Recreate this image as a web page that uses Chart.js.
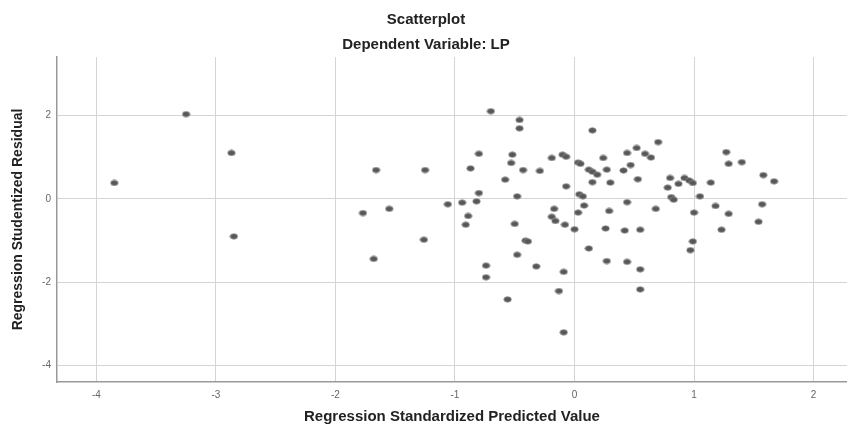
<!DOCTYPE html>
<html>
<head>
<meta charset="utf-8">
<script src="https://cdn.jsdelivr.net/npm/chart.js@4/dist/chart.umd.min.js"></script>
<style>
  html, body { margin: 0; padding: 0; background: #fff; overflow: hidden; }
  canvas { display: block; }
</style>
</head>
<body>
<canvas id="scatter" width="852" height="428"></canvas>
<script>
// Regression Standardized Predicted Value (x) / Studentized Residual (y)
const predicted = [
    -3.85, -3.25, -2.87, -2.85,
    -0.70, -0.46, -0.46, -0.80, -0.52, -0.53, -1.66, -1.25, -0.87, -0.43, -0.29, -0.58,
    -0.80, -0.48, -1.06, -0.94, -0.82, -1.77, -1.55, -0.89, -0.91, -0.50, -1.26, -0.41,
    -0.39, -1.68, -0.48, -0.74, -0.74, -0.32, -0.56,
    0.15, 0.70, -0.19, -0.10, -0.07, 0.03, 0.05, 0.12, 0.15, 0.19, 0.24, 0.27, 0.44,
    0.52, 0.59, 0.64, 0.41, 0.47, 0.15, 0.30, 0.53, -0.07, 0.80, 0.78, 0.87, 0.04,
    0.07, 0.08, 0.03, -0.17, -0.19, -0.16, -0.08, 0.00, 0.44, 0.68, 0.81, 0.83, 0.29,
    0.26, 0.42, 0.55, 0.12, 0.27, 0.44, 0.55, 0.55, -0.09, -0.13, -0.09,
    1.27, 1.29, 1.40, 0.92, 0.96, 0.99, 1.14, 1.58, 1.67, 1.05, 1.18, 1.00, 1.29,
    1.57, 1.54, 1.23, 0.99, 0.97
];
const residual = [
    0.38, 2.03, 1.10, -0.90,
    2.10, 1.89, 1.69, 1.08, 1.06, 0.86, 0.69, 0.69, 0.73, 0.69, 0.67, 0.46,
    0.14, 0.06, -0.13, -0.09, -0.06, -0.34, -0.24, -0.41, -0.62, -0.60, -0.98, -1.00,
    -1.02, -1.44, -1.34, -1.60, -1.88, -1.62, -2.41,
    1.64, 1.36, 0.98, 1.06, 1.01, 0.87, 0.84, 0.70, 0.65, 0.58, 0.98, 0.70, 1.10,
    1.22, 1.08, 0.99, 0.68, 0.81, 0.40, 0.39, 0.47, 0.30, 0.50, 0.27, 0.36, 0.11,
    0.06, -0.16, -0.33, -0.24, -0.43, -0.53, -0.62, -0.73, -0.08, -0.24, 0.04, -0.02, -0.29,
    -0.71, -0.76, -0.74, -1.19, -1.49, -1.51, -1.69, -2.17, -1.75, -2.21, -3.20,
    1.12, 0.84, 0.88, 0.50, 0.44, 0.38, 0.39, 0.57, 0.42, 0.06, -0.17, -0.33, -0.36,
    -0.13, -0.55, -0.74, -1.02, -1.23
];

const FONT = "'Liberation Sans', Arial, sans-serif";

const points = predicted.map((x, i) => ({ x: x, y: residual[i] }));

// slightly wide marker, like the SPSS export
function makeMarker() {
    const c = document.createElement("canvas");
    c.width = 9;
    c.height = 7;
    const ctx = c.getContext("2d");
    ctx.beginPath();
    ctx.ellipse(4.5, 3.5, 3.7, 2.7, 0, 0, Math.PI * 2);
    ctx.fillStyle = "#575757";
    ctx.fill();
    ctx.lineWidth = 0.8;
    ctx.strokeStyle = "#8c8c8c";
    ctx.stroke();
    return c;
}

new Chart(document.getElementById("scatter"), {
    type: "scatter",
    data: {
        datasets: [{
            data: points,
            pointStyle: makeMarker(),
            pointRadius: 3.5,
        }],
    },
    options: {
        responsive: false,
        animation: false,
        layout: { padding: 0 },
        plugins: {
            legend: { display: false },
            tooltip: { enabled: false },
            title: {
                display: true,
                text: "Scatterplot",
                color: "#222",
                font: { family: FONT, size: 15, weight: "bold" },
                padding: { top: 11, bottom: 3 },
            },
            subtitle: {
                display: true,
                text: "Dependent Variable: LP",
                color: "#222",
                font: { family: FONT, size: 15, weight: "bold" },
                padding: { top: 4, bottom: 3 },
            },
        },
        scales: {
            x: {
                type: "linear",
                min: -4.33,
                max: 2.28,
                afterFit: (scale) => { scale.height = 46; },
                ticks: {
                    stepSize: 1,
                    includeBounds: false,
                    padding: 7,
                    color: "#666",
                    font: { family: FONT, size: 10 },
                },
                grid: { color: "#d4d4d4", drawTicks: false },
                border: { color: "#999", width: 1.5 },
                title: {
                    display: true,
                    text: "Regression Standardized Predicted Value",
                    color: "#222",
                    font: { family: FONT, size: 15, weight: "bold" },
                    padding: { top: 0, bottom: 2 },
                },
            },
            y: {
                type: "linear",
                min: -4.39,
                max: 3.40,
                afterFit: (scale) => { scale.width = 57; },
                ticks: {
                    stepSize: 2,
                    includeBounds: false,
                    padding: 6,
                    color: "#666",
                    font: { family: FONT, size: 10 },
                },
                grid: { color: "#d4d4d4", drawTicks: false },
                border: { color: "#999", width: 1.5 },
                title: {
                    display: true,
                    text: "Regression Studentized Residual",
                    color: "#222",
                    font: { family: FONT, size: 14, weight: "bold" },
                    padding: { top: 10, bottom: 0 },
                },
            },
        },
    },
});
</script>
</body>
</html>
